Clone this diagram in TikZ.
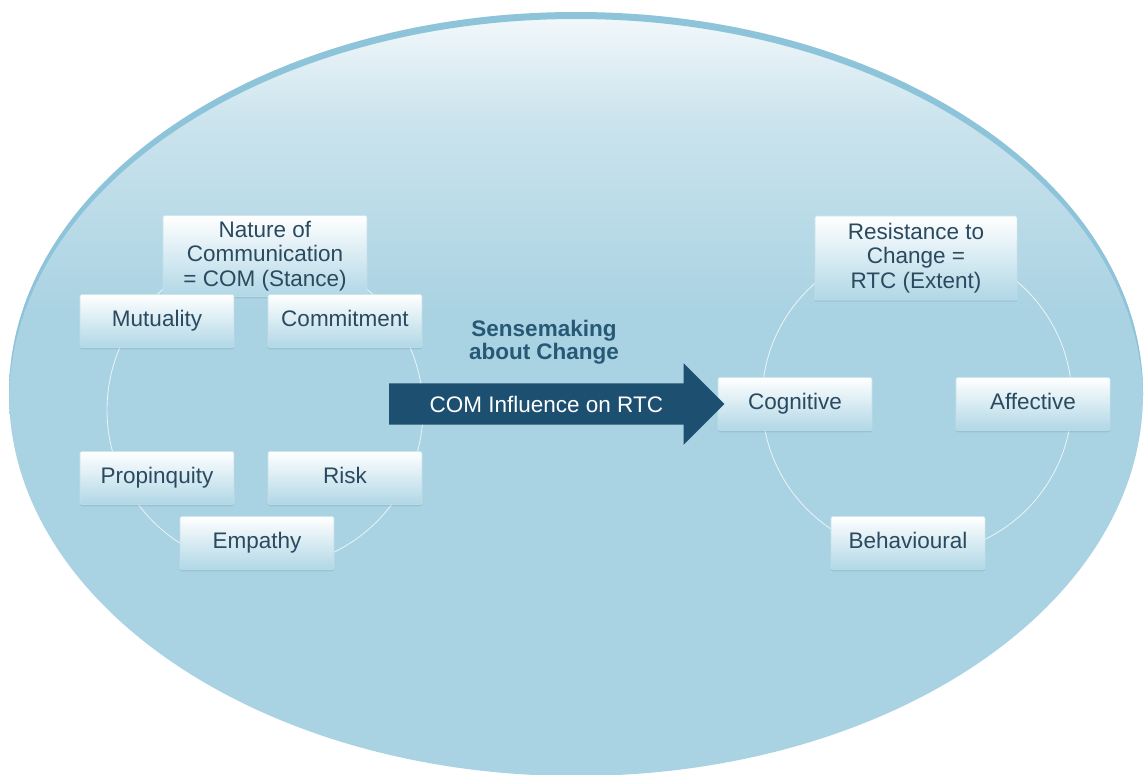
\documentclass[tikz,border=0pt]{standalone}
\usepackage{fontspec}
\setmainfont{Liberation Sans}
\usepackage{tikz}
\usetikzlibrary{shapes.arrows,shadows}

\definecolor{ovalblue}{HTML}{A9D2E2}
\definecolor{ovaltop}{HTML}{F4F9FB}
\definecolor{rimblue}{HTML}{8EC4D9}
\definecolor{boxblue}{HTML}{B0D7E6}
\definecolor{boxedge}{HTML}{C4E0EB}
\definecolor{boxtext}{HTML}{2A4A60}
\definecolor{arrowblue}{HTML}{1D4F70}
\definecolor{sensetext}{HTML}{275977}
\pgfdeclareverticalshading{ovalshading}{100bp}{color(0bp)=(ovalblue); color(55bp)=(ovalblue); color(68bp)=(ovalblue!55!ovaltop); color(75bp)=(ovaltop); color(100bp)=(ovaltop)}

\begin{document}
\begin{tikzpicture}[x=0.025cm, y=-0.025cm,
    bigbox/.style={rectangle, rounded corners=1pt, draw=boxedge, line width=0.4pt,
      top color=white, bottom color=boxblue, text=boxtext, align=center,
      font=\fontsize{16}{17.5}\selectfont, minimum width=3.85cm, minimum height=1.33cm,
      inner sep=2pt, drop shadow={shadow xshift=0pt, shadow yshift=-1.2pt, opacity=0.12, fill=boxtext}},
    box/.style={bigbox, text height=11.6pt, text depth=3.4pt},
    ring/.style={draw=white, opacity=0.75, line width=0.6pt}]
    \useasboundingbox (0,0) rectangle (1144,775);
    \coordinate (oval) at (576,394);
    \coordinate (comring) at (265,410);
    \coordinate (rtcring) at (917,400);
    \shade[shading=ovalshading] (oval) ellipse (567 and 382);
    \begin{scope}
      \clip (oval) ellipse (567 and 382);
      \fill[rimblue, even odd rule] (0,-20) rectangle (1144,800) (576,401) ellipse (567 and 382);
    \end{scope}
    \draw[ring] (comring) circle (158);
    \draw[ring] (rtcring) circle (155);
    \node[bigbox, minimum width=5.1cm, minimum height=2.03cm] (nature) at (265,256) {Nature of\\Communication\\= COM (Stance)};
    \node[box] (mutuality) at (157,321) {Mutuality};
    \node[box] (commitment) at (345,321) {Commitment};
    \node[box] (propinquity) at (157,478) {Propinquity};
    \node[box] (risk) at (345,478) {Risk};
    \node[box] (empathy) at (257,543) {Empathy};
    \node[bigbox, minimum width=5.05cm, minimum height=2.1cm] (resistance) at (916,258) {Resistance to\\Change =\\RTC (Extent)};
    \node[box] (cognitive) at (795,404) {Cognitive};
    \node[box] (affective) at (1033,404) {Affective};
    \node[box] (behavioural) at (908,543) {Behavioural};
    \node[single arrow, fill=arrowblue, text=white, anchor=tip,
      inner xsep=0pt, inner ysep=8.7pt, text height=11.7pt, text depth=0pt,
      minimum height=8.375cm, single arrow head extend=0.5cm,
      font=\fontsize{16}{17.5}\selectfont] (influence) at ([xshift=0.175cm]cognitive.west) {COM Influence on RTC};
    \node[text=sensetext, align=center, font=\fontsize{16}{16.5}\selectfont\bfseries] (sense) at (544,342) {Sensemaking\\about Change};
  \end{tikzpicture}
\end{document}
